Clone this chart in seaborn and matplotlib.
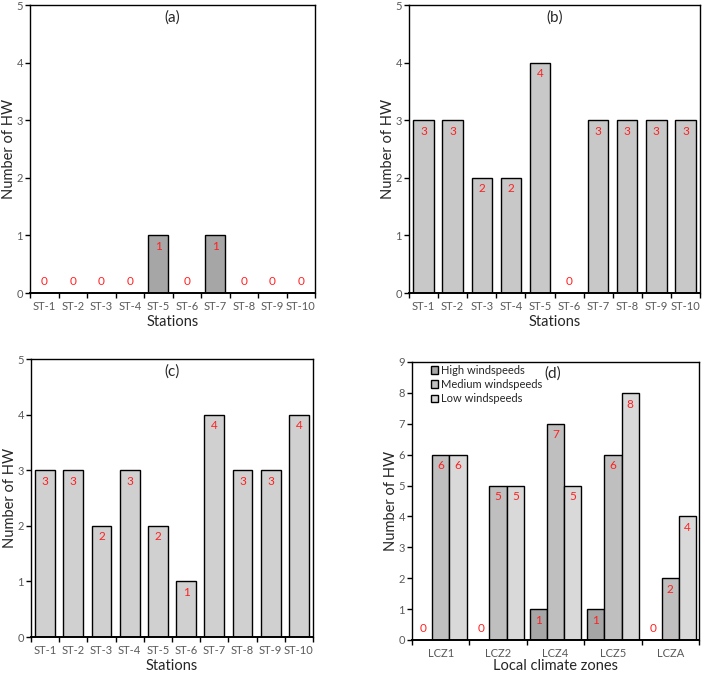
import pandas as pd
import seaborn as sns
import matplotlib.pyplot as plt
from matplotlib.ticker import FixedLocator

# data
stations = ['ST-1', 'ST-2', 'ST-3', 'ST-4', 'ST-5', 'ST-6', 'ST-7', 'ST-8', 'ST-9', 'ST-10']
hw_a = [0, 0, 0, 0, 1, 0, 1, 0, 0, 0]
hw_b = [3, 3, 2, 2, 4, 0, 3, 3, 3, 3]
hw_c = [3, 3, 2, 3, 2, 1, 4, 3, 3, 4]

zones = ['LCZ1', 'LCZ2', 'LCZ4', 'LCZ5', 'LCZA']
wind_levels = ['High windspeeds', 'Medium windspeeds', 'Low windspeeds']
hw_high = [0, 0, 1, 1, 0]
hw_medium = [6, 5, 7, 6, 2]
hw_low = [6, 5, 5, 8, 4]

sns.set_style('ticks')
plt.rcParams['font.family'] = ['Lato', 'DejaVu Sans']

TICK_COLOR = '#595959'
LABEL_RED = '#ff2020'

fig = plt.figure(figsize=(7.03, 6.73), dpi=100)

W, H = 703, 673


def px_axes(left, top, right, bottom):
    return fig.add_axes([left / W, (H - bottom) / H, (right - left) / W, (bottom - top) / H])


def style_axes(ax, ymax, ncat, xlabel, xpad=0):
    ax.set_ylim(0, ymax)
    ax.set_yticks(range(0, ymax + 1))
    ax.set_xlim(-0.5, ncat - 0.5)
    for s in ax.spines.values():
        s.set_visible(True)
        s.set_color('black')
        s.set_linewidth(1.0)
    ax.spines['bottom'].set_linewidth(1.4)
    # excel-style x ticks between categories
    ax.xaxis.set_minor_locator(FixedLocator([i - 0.5 for i in range(ncat + 1)]))
    ax.tick_params(axis='x', which='major', length=0, pad=6, labelsize=8, labelcolor=TICK_COLOR)
    ax.tick_params(axis='x', which='minor', length=3.5, width=1, color='black', direction='out')
    ax.tick_params(axis='y', length=3.5, width=1, color='black', labelsize=8, labelcolor=TICK_COLOR, pad=1.5)
    ax.set_xlabel(xlabel, fontsize=10.5, color='#262626', labelpad=xpad)
    ax.set_ylabel('Number of HW', fontsize=10.5, color='#262626', labelpad=0.5)


def add_value_labels(ax):
    for cont in ax.containers:
        for bar in cont:
            h = bar.get_height()
            x = bar.get_x() + bar.get_width() / 2
            off = -8 if h > 0 else 8
            ax.annotate(f'{int(h)}', (x, h), xytext=(0, off), textcoords='offset points',
                        ha='center', va='center', fontsize=8.5, color=LABEL_RED)


panels = [
    ('(a)', hw_a, '#a6a6a6', (30, 5, 315, 293)),
    ('(b)', hw_b, '#c8c8c8', (409, 5, 700, 293)),
    ('(c)', hw_c, '#d0d0d0', (31, 359, 313, 637)),
]

for tag, vals, col, box in panels:
    ax = px_axes(*box)
    df = pd.DataFrame({'station': stations, 'hw': vals})
    sns.barplot(data=df, x='station', y='hw', color=col, edgecolor='black',
                linewidth=1.0, width=0.7, saturation=1, ax=ax)
    style_axes(ax, 5, len(stations), 'Stations', xpad=2)
    add_value_labels(ax)
    ax.text(0.5, 0.955, tag, transform=ax.transAxes, ha='center', va='center',
            fontsize=11, color='#262626')

# panel (d)
ax = px_axes(412, 362, 699, 640)
df_d = pd.DataFrame({
    'zone': zones * 3,
    'wind': [wind_levels[0]] * 5 + [wind_levels[1]] * 5 + [wind_levels[2]] * 5,
    'hw': hw_high + hw_medium + hw_low,
})
sns.barplot(data=df_d, x='zone', y='hw', hue='wind', hue_order=wind_levels,
            palette=['#a6a6a6', '#bfbfbf', '#d9d9d9'], edgecolor='black',
            linewidth=1.0, width=0.9, saturation=1, ax=ax)
style_axes(ax, 9, len(zones), 'Local climate zones')
add_value_labels(ax)
ax.text(0.49, 0.96, '(d)', transform=ax.transAxes, ha='center', va='center',
        fontsize=11, color='#262626')
ax.legend(loc='upper left', bbox_to_anchor=(0.065, 0.99), frameon=False, fontsize=8,
          handlelength=0.7, handleheight=0.7, handletextpad=0.25, labelspacing=0.3,
          borderaxespad=0, borderpad=0, labelcolor='#262626')

fig.savefig('out.png', dpi=100)
